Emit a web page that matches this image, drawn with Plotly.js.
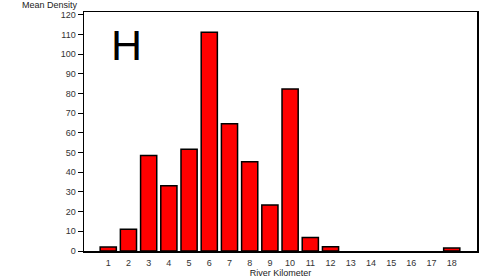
<!DOCTYPE html>
<html>
<head>
<meta charset="utf-8">
<script src="https://cdn.plot.ly/plotly-3.0.1.min.js"></script>
<style>html,body{margin:0;padding:0;background:#fff;}#chart{width:481px;height:278px;}</style>
</head>
<body>
<div id="chart"></div>
<script>
var riverKm = [1,2,3,4,5,6,7,8,9,10,11,12,13,14,15,16,17,18];
var meanDensity = [2,11,48.5,33.2,51.7,111.2,64.7,45.4,23.4,82.4,6.8,2.2,0,0,0,0,0,1.5];
var yTicks = [0,10,20,30,40,50,60,70,80,90,100,110,120];
var panelLabel = "H";

var trace = {
  type: 'bar',
  x: riverKm,
  y: meanDensity,
  width: 0.8,
  marker: {color: '#ff0000', line: {color: '#000000', width: meanDensity.map(function(v){return v > 0 ? 1.5 : 0;})}},
  hoverinfo: 'none'
};

var layout = {
  width: 481, height: 278,
  margin: {l: 84, r: 4, t: 12, b: 27, pad: 0},
  paper_bgcolor: '#ffffff', plot_bgcolor: '#ffffff',
  showlegend: false,
  font: {family: 'Liberation Sans, Arial, sans-serif', color: '#222222', size: 9},
  xaxis: {
    range: [-0.2, 19.25],
    tickvals: riverKm,
    ticktext: riverKm.map(String),
    ticks: '', showgrid: false, zeroline: false,
    ticklabelstandoff: 3,
    showline: true, linecolor: '#000', linewidth: 1.5, mirror: true,
    tickfont: {size: 9, color: '#333'},
    title: {text: 'River Kilometer', font: {size: 9, color: '#222'}, standoff: 1}
  },
  yaxis: {
    range: [0, 121.5],
    tickvals: yTicks,
    ticks: 'outside', ticklen: 5, tickcolor: '#000',
    showgrid: false, zeroline: false,
    showline: true, linecolor: '#000', linewidth: 1.5, mirror: true,
    tickfont: {size: 9, color: '#333'}
  },
  annotations: [
    {text: 'Mean Density', xref: 'paper', yref: 'paper', x: -0.01, y: 1.0, xanchor: 'right', yanchor: 'bottom',
     showarrow: false, font: {size: 9, color: '#222'}, yshift: 0},
    {text: panelLabel, xref: 'paper', yref: 'paper', x: 0.063, y: 0.97, xanchor: 'left', yanchor: 'top',
     showarrow: false, font: {size: 43, color: '#000', family: 'Liberation Sans, Arial, sans-serif'}}
  ]
};

Plotly.newPlot('chart', [trace], layout, {staticPlot: true, displayModeBar: false});
</script>
</body>
</html>
